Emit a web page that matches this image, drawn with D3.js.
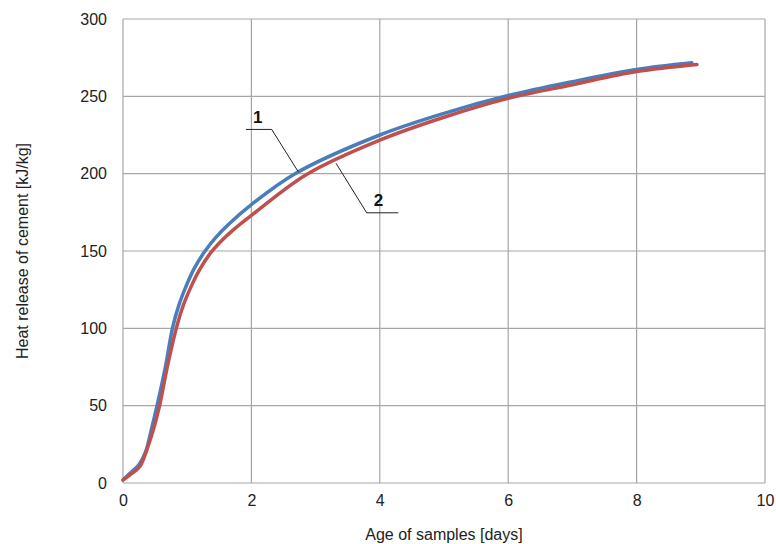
<!DOCTYPE html>
<html>
<head>
<meta charset="UTF-8">
<script src="https://cdnjs.cloudflare.com/ajax/libs/d3/7.8.5/d3.min.js"></script>
<style>
  body { margin: 0; background: #fff; }
  text { font-family: "Liberation Sans", Arial, sans-serif; }
</style>
</head>
<body>
<svg id="chart" width="776" height="544"></svg>
<script>
// sample 1 (blue) and sample 2 (red)
const days1 = [0, 0.1, 0.25, 0.35, 0.45, 0.53, 0.66, 0.77, 0.87, 0.98, 1.1, 1.27, 1.45, 1.65, 2, 2.68, 4, 5, 6, 7, 8, 8.86];
const heat1 = [2, 6, 12, 20, 36, 50, 75, 100, 115, 127, 138, 149.5, 159, 167.5, 180, 200, 225, 239, 250.5, 259.5, 267.4, 271.7];
const days2 = [0, 0.1, 0.26, 0.4, 0.49, 0.57, 0.69, 0.83, 0.94, 1.05, 1.18, 1.35, 1.52, 1.7, 2, 2.86, 4, 5, 6, 7, 8, 8.94];
const heat2 = [2, 5, 10.5, 25, 37, 50, 75, 100, 115, 126, 137, 148, 156, 163, 173, 199.5, 221.7, 236.5, 248.7, 257.5, 266, 270.6];

const xTicks = [0, 2, 4, 6, 8, 10];
const yTicks = [0, 50, 100, 150, 200, 250, 300];

// leader lines for the curve labels, in data units
const labels = [
  { name: '1', at: [2.10, 232.5], path: [[1.916, 228.6], [2.316, 228.6], [2.73, 201.2]] },
  { name: '2', at: [3.98, 179], path: [[3.318, 206.7], [3.796, 174.7], [4.288, 174.7]] }
];

var svg = d3.select('#chart');
var margin = { top: 19, right: 11, bottom: 61, left: 123 };
var width = +svg.attr('width') - margin.left - margin.right,
    height = +svg.attr('height') - margin.top - margin.bottom;

var x = d3.scaleLinear().domain([0, 10]).range([0, width]);
var y = d3.scaleLinear().domain([0, 300]).range([height, 0]);

var g = svg.append('g').attr('transform', 'translate(' + margin.left + ',' + margin.top + ')');

// grid
g.append('g').selectAll('line').data(xTicks).enter().append('line')
  .attr('x1', d => x(d)).attr('x2', d => x(d))
  .attr('y1', 0).attr('y2', height)
  .attr('stroke', '#a6a6a6').attr('stroke-width', 1.2);
g.append('g').selectAll('line').data(yTicks).enter().append('line')
  .attr('x1', 0).attr('x2', width)
  .attr('y1', d => y(d)).attr('y2', d => y(d))
  .attr('stroke', '#a6a6a6').attr('stroke-width', 1.2);

// axes (labels only)
var xAxis = g.append('g').attr('transform', 'translate(0,' + height + ')')
  .call(d3.axisBottom(x).tickValues(xTicks).tickSize(0).tickPadding(12));
var yAxis = g.append('g')
  .call(d3.axisLeft(y).tickValues(yTicks).tickSize(0).tickPadding(16));
[xAxis, yAxis].forEach(a => {
  a.select('.domain').remove();
  a.selectAll('text').attr('font-size', 16).attr('fill', '#222')
    .attr('font-family', '"Liberation Sans", Arial, sans-serif');
});

// curves
var line = d3.line().x(d => x(d[0])).y(d => y(d[1])).curve(d3.curveCatmullRom.alpha(0.5));
var series = [
  { pts: d3.zip(days1, heat1), color: '#4a7ebb' },
  { pts: d3.zip(days2, heat2), color: '#c0504d' }
];
g.selectAll('.curve').data(series).enter().append('path')
  .attr('class', 'curve')
  .attr('d', d => line(d.pts))
  .attr('fill', 'none')
  .attr('stroke', d => d.color)
  .attr('stroke-width', 3.5)
  .attr('stroke-linecap', 'round');

// leader lines and numbers
var straight = d3.line().x(d => x(d[0])).y(d => y(d[1]));
labels.forEach(l => {
  g.append('path').attr('d', straight(l.path))
    .attr('fill', 'none').attr('stroke', '#222').attr('stroke-width', 1);
  g.append('text').attr('x', x(l.at[0])).attr('y', y(l.at[1]))
    .attr('text-anchor', 'middle').attr('font-size', 17).attr('font-weight', 'bold')
    .attr('fill', '#111').text(l.name);
});

// titles
svg.append('text')
  .attr('x', margin.left + width / 2).attr('y', 540)
  .attr('text-anchor', 'middle').attr('font-size', 16).attr('fill', '#222')
  .text('Age of samples [days]');
svg.append('text')
  .attr('transform', 'translate(28,' + (margin.top + height / 2) + ') rotate(-90)')
  .attr('text-anchor', 'middle').attr('font-size', 16).attr('fill', '#222')
  .text('Heat release of cement [kJ/kg]');
</script>
</body>
</html>
